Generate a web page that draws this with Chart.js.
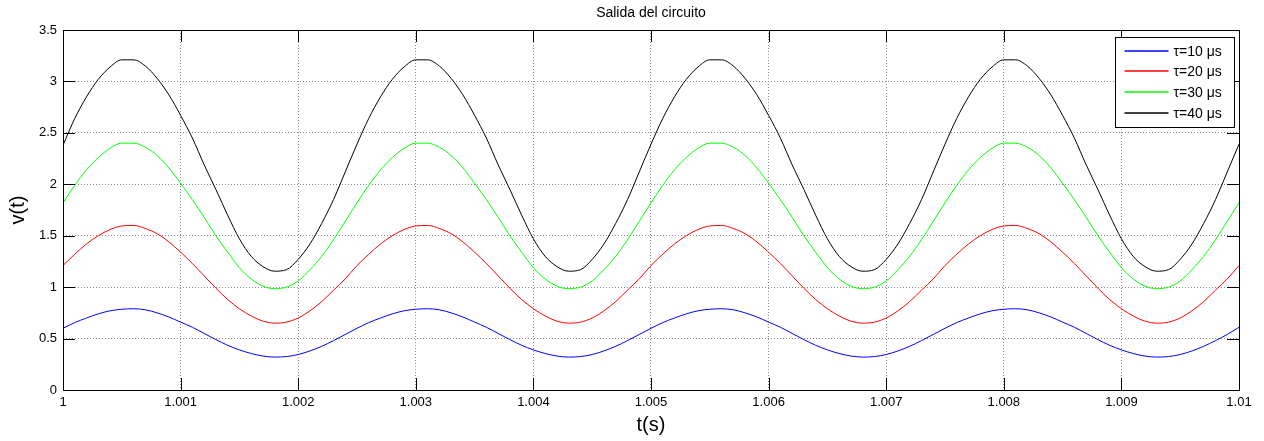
<!DOCTYPE html>
<html>
<head>
<meta charset="utf-8">
<script src="https://cdn.jsdelivr.net/npm/chart.js@4.4.1/dist/chart.umd.min.js"></script>
<style>
  html, body { margin: 0; padding: 0; background: #fff; }
  canvas { display: block; }
</style>
</head>
<body>
<canvas id="salida" width="1264" height="441"></canvas>
<script>
// tiempo de muestreo (s)
const tiempo = [
  1.0000, 1.0001, 1.0002, 1.0003, 1.0004, 1.0005, 1.0006, 1.0007, 1.0008, 1.0009,
  1.0010, 1.0011, 1.0012, 1.0013, 1.0014, 1.0015, 1.0016, 1.0017, 1.0018, 1.0019,
  1.0020, 1.0021, 1.0022, 1.0023, 1.0024, 1.0025, 1.0026, 1.0027, 1.0028, 1.0029,
  1.0030, 1.0031, 1.0032, 1.0033, 1.0034, 1.0035, 1.0036, 1.0037, 1.0038, 1.0039,
  1.0040, 1.0041, 1.0042, 1.0043, 1.0044, 1.0045, 1.0046, 1.0047, 1.0048, 1.0049,
  1.0050, 1.0051, 1.0052, 1.0053, 1.0054, 1.0055, 1.0056, 1.0057, 1.0058, 1.0059,
  1.0060, 1.0061, 1.0062, 1.0063, 1.0064, 1.0065, 1.0066, 1.0067, 1.0068, 1.0069,
  1.0070, 1.0071, 1.0072, 1.0073, 1.0074, 1.0075, 1.0076, 1.0077, 1.0078, 1.0079,
  1.0080, 1.0081, 1.0082, 1.0083, 1.0084, 1.0085, 1.0086, 1.0087, 1.0088, 1.0089,
  1.0090, 1.0091, 1.0092, 1.0093, 1.0094, 1.0095, 1.0096, 1.0097, 1.0098, 1.0099,
  1.0100
];

// v(t) para cada constante de tiempo
const vTau10 = [
  0.60, 0.655, 0.70, 0.74, 0.77, 0.785, 0.79, 0.78, 0.75, 0.71, 0.66, 0.61, 0.55, 0.49, 0.435, 0.39, 0.355, 0.33, 0.32, 0.325, 0.345, 0.38, 0.425, 0.48, 0.54,
  0.60, 0.655, 0.70, 0.74, 0.77, 0.785, 0.79, 0.78, 0.75, 0.71, 0.66, 0.61, 0.55, 0.49, 0.435, 0.39, 0.355, 0.33, 0.32, 0.325, 0.345, 0.38, 0.425, 0.48, 0.54,
  0.60, 0.655, 0.70, 0.74, 0.77, 0.785, 0.79, 0.78, 0.75, 0.71, 0.66, 0.61, 0.55, 0.49, 0.435, 0.39, 0.355, 0.33, 0.32, 0.325, 0.345, 0.38, 0.425, 0.48, 0.54,
  0.60, 0.655, 0.70, 0.74, 0.77, 0.785, 0.79, 0.78, 0.75, 0.71, 0.66, 0.61, 0.55, 0.49, 0.435, 0.39, 0.355, 0.33, 0.32, 0.325, 0.345, 0.38, 0.425, 0.48, 0.54,
  0.61
];
const vTau20 = [
  1.21, 1.32, 1.42, 1.50, 1.56, 1.595, 1.60, 1.57, 1.52, 1.44, 1.34, 1.23, 1.11, 0.99, 0.88, 0.79, 0.72, 0.67, 0.65, 0.66, 0.70, 0.77, 0.86, 0.97, 1.08,
  1.21, 1.32, 1.42, 1.50, 1.56, 1.595, 1.60, 1.57, 1.52, 1.44, 1.34, 1.23, 1.11, 0.99, 0.88, 0.79, 0.72, 0.67, 0.65, 0.66, 0.70, 0.77, 0.86, 0.97, 1.08,
  1.21, 1.32, 1.42, 1.50, 1.56, 1.595, 1.60, 1.57, 1.52, 1.44, 1.34, 1.23, 1.11, 0.99, 0.88, 0.79, 0.72, 0.67, 0.65, 0.66, 0.70, 0.77, 0.86, 0.97, 1.08,
  1.21, 1.32, 1.42, 1.50, 1.56, 1.595, 1.60, 1.57, 1.52, 1.44, 1.34, 1.23, 1.11, 0.99, 0.88, 0.79, 0.72, 0.67, 0.65, 0.66, 0.70, 0.77, 0.86, 0.97, 1.08,
  1.21
];
const vTau30 = [
  1.82, 1.99, 2.14, 2.26, 2.35, 2.40, 2.40, 2.36, 2.28, 2.16, 2.01, 1.85, 1.68, 1.50, 1.34, 1.19, 1.08, 1.01, 0.985, 1.00, 1.06, 1.17, 1.30, 1.46, 1.64,
  1.82, 1.99, 2.14, 2.26, 2.35, 2.40, 2.40, 2.36, 2.28, 2.16, 2.01, 1.85, 1.68, 1.50, 1.34, 1.19, 1.08, 1.01, 0.985, 1.00, 1.06, 1.17, 1.30, 1.46, 1.64,
  1.82, 1.99, 2.14, 2.26, 2.35, 2.40, 2.40, 2.36, 2.28, 2.16, 2.01, 1.85, 1.68, 1.50, 1.34, 1.19, 1.08, 1.01, 0.985, 1.00, 1.06, 1.17, 1.30, 1.46, 1.64,
  1.82, 1.99, 2.14, 2.26, 2.35, 2.40, 2.40, 2.36, 2.28, 2.16, 2.01, 1.85, 1.68, 1.50, 1.34, 1.19, 1.08, 1.01, 0.985, 1.00, 1.06, 1.17, 1.30, 1.46, 1.64,
  1.82
];
const vTau40 = [
  2.38, 2.64, 2.85, 3.02, 3.14, 3.21, 3.21, 3.15, 3.03, 2.87, 2.67, 2.45, 2.19, 1.95, 1.70, 1.47, 1.30, 1.20, 1.155, 1.17, 1.27, 1.42, 1.62, 1.85, 2.12,
  2.39, 2.64, 2.85, 3.02, 3.14, 3.21, 3.21, 3.15, 3.03, 2.87, 2.67, 2.45, 2.19, 1.95, 1.70, 1.47, 1.30, 1.20, 1.155, 1.17, 1.27, 1.42, 1.62, 1.85, 2.12,
  2.39, 2.64, 2.85, 3.02, 3.14, 3.21, 3.21, 3.15, 3.03, 2.87, 2.67, 2.45, 2.19, 1.95, 1.70, 1.47, 1.30, 1.20, 1.155, 1.17, 1.27, 1.42, 1.62, 1.85, 2.12,
  2.39, 2.64, 2.85, 3.02, 3.14, 3.21, 3.21, 3.15, 3.03, 2.87, 2.67, 2.45, 2.19, 1.95, 1.70, 1.47, 1.30, 1.20, 1.155, 1.17, 1.27, 1.42, 1.62, 1.85, 2.12,
  2.39
];

const etiquetas = ['τ=10 μs', 'τ=20 μs', 'τ=30 μs', 'τ=40 μs'];
const colores = ['#0000ff', '#ff0000', '#00ff00', '#000000'];

const xTicks = [1, 1.001, 1.002, 1.003, 1.004, 1.005, 1.006, 1.007, 1.008, 1.009, 1.01];
const xTickLabels = ['1', '1.001', '1.002', '1.003', '1.004', '1.005', '1.006', '1.007', '1.008', '1.009', '1.01'];
const yTicks = [0, 0.5, 1, 1.5, 2, 2.5, 3, 3.5];
const yTickLabels = ['0', '0.5', '1', '1.5', '2', '2.5', '3', '3.5'];

const FONT = '"Liberation Sans", Arial, Helvetica, sans-serif';

const serie = v => tiempo.map((t, i) => ({ x: t, y: v[i] }));

// caja, marcas hacia dentro, titulo y leyenda al estilo matlab
const marco = {
  id: 'marco',
  afterDraw(chart) {
    const { ctx, chartArea: a, scales } = chart;
    const tl = 12;
    ctx.save();
    ctx.strokeStyle = '#000';
    ctx.lineWidth = 1;
    ctx.beginPath();
    xTicks.forEach(v => {
      const x = Math.round(scales.x.getPixelForValue(v)) + 0.5;
      ctx.moveTo(x, a.bottom); ctx.lineTo(x, a.bottom - tl);
      ctx.moveTo(x, a.top); ctx.lineTo(x, a.top + tl);
    });
    yTicks.forEach(v => {
      const y = Math.round(scales.y.getPixelForValue(v)) + 0.5;
      ctx.moveTo(a.left, y); ctx.lineTo(a.left + tl, y);
      ctx.moveTo(a.right, y); ctx.lineTo(a.right - tl, y);
    });
    ctx.stroke();
    ctx.strokeRect(Math.round(a.left) + 0.5, Math.round(a.top) + 0.5,
      Math.round(a.right - a.left), Math.round(a.bottom - a.top));

    // titulo
    ctx.fillStyle = '#000';
    ctx.font = '14px ' + FONT;
    ctx.textAlign = 'center';
    ctx.textBaseline = 'middle';
    ctx.fillText('Salida del circuito', (a.left + a.right) / 2, 13);

    // leyenda
    const bx = Math.round(a.right) - 123.5, by = Math.round(a.top) + 7.5;
    const bw = 119, bh = 90;
    ctx.fillStyle = '#fff';
    ctx.fillRect(bx, by, bw, bh);
    ctx.strokeStyle = '#000';
    ctx.strokeRect(bx, by, bw, bh);
    ctx.font = '14px ' + FONT;
    ctx.textAlign = 'left';
    etiquetas.forEach((txt, i) => {
      const y = Math.round(by + 13 + i * 20.9);
      ctx.strokeStyle = colores[i];
      ctx.lineWidth = 1.4;
      ctx.beginPath();
      ctx.moveTo(bx + 9, y);
      ctx.lineTo(bx + 53, y);
      ctx.stroke();
      ctx.fillStyle = '#000';
      ctx.fillText(txt, bx + 58, y + 1);
    });
    ctx.restore();
  }
};

new Chart(document.getElementById('salida'), {
  type: 'line',
  data: {
    datasets: [vTau10, vTau20, vTau30, vTau40].map((v, i) => ({
      label: etiquetas[i],
      data: serie(v),
      borderColor: colores[i],
      borderWidth: 1,
      pointRadius: 0,
      cubicInterpolationMode: 'monotone',
      fill: false
    }))
  },
  options: {
    responsive: false,
    animation: false,
    layout: { padding: { top: 30, right: 25, left: 0, bottom: 0 } },
    plugins: {
      legend: { display: false },
      title: { display: false },
      tooltip: { enabled: false }
    },
    scales: {
      x: {
        type: 'linear',
        min: 1,
        max: 1.01,
        afterFit: s => { s.height = 51; },
        afterBuildTicks: s => { s.ticks = xTicks.map(v => ({ value: v })); },
        ticks: {
          color: '#000',
          font: { family: FONT, size: 13 },
          padding: 5,
          maxRotation: 0,
          autoSkip: false,
          callback: (v, i) => xTickLabels[i]
        },
        grid: { color: '#8a8a8a', drawTicks: false },
        border: { display: false, dash: [1, 2] },
        title: { display: true, text: 't(s)', color: '#000', font: { family: FONT, size: 20 }, padding: { top: 0, bottom: 4 } }
      },
      y: {
        min: 0,
        max: 3.5,
        afterFit: s => { s.width = 63; },
        afterBuildTicks: s => { s.ticks = yTicks.map(v => ({ value: v })); },
        ticks: {
          color: '#000',
          font: { family: FONT, size: 13 },
          padding: 6,
          autoSkip: false,
          callback: (v, i) => yTickLabels[i]
        },
        grid: { color: '#8a8a8a', drawTicks: false },
        border: { display: false, dash: [1, 2] },
        title: { display: true, text: 'v(t)', color: '#000', font: { family: FONT, size: 20 }, padding: { top: 6, bottom: 0 } }
      }
    }
  },
  plugins: [marco]
});
</script>
</body>
</html>
